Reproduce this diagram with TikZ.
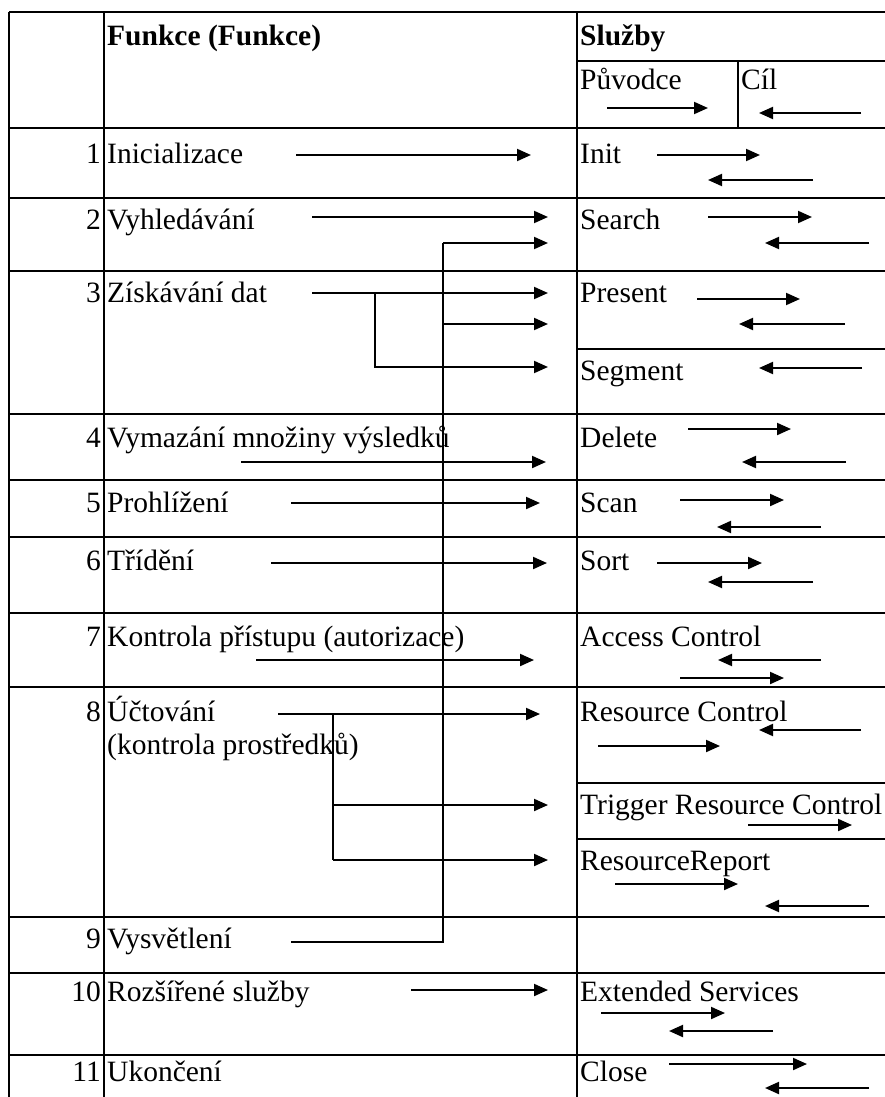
\documentclass[tikz,border=0pt]{standalone}
\usepackage{fontspec}
\setmainfont{Liberation Serif}
\usetikzlibrary{arrows.meta}

% one arrow with named ends: name, x of tail, x of tip, y
\newcommand\harrow[4]{%
  \coordinate (#1-s) at (#2,#4);
  \coordinate (#1-e) at (#3,#4);
  \draw[conn] (#1-s) -- (#1-e);}

\begin{document}
\begin{tikzpicture}[x=1pt,y=-1pt,
  grid/.style={line width=2.6pt},
  thin grid/.style={line width=1.8pt},
  conn/.style={line width=2pt,-{Triangle[length=14pt,width=12pt]}},
  wire/.style={line width=1.8pt},
  txt/.style={inner sep=0pt,anchor=base west,font=\fontsize{29.5}{33}\selectfont},
  num/.style={inner sep=0pt,anchor=base east,font=\fontsize{29.5}{33}\selectfont},
  head/.style={txt,font=\fontsize{29.5}{33}\selectfont\bfseries}]
\useasboundingbox (0,0) rectangle (885,1097);

% ---- table rules ----
\draw[grid] (9,12) -- (885,12);
\draw[grid] (9,12) -- (9,1097);
\draw[grid] (104,12) -- (104,1097);
\draw[grid] (577,12) -- (577,1097);
\draw[thin grid] (577,61) -- (885,61);
\draw[thin grid] (738,61) -- (738,128);
\foreach \y in {128,198,271,414,480,537,613,687,917,973,1055}
  \draw[grid] (9,\y) -- (885,\y);
\foreach \y in {349,783,839}
  \draw[grid] (577,\y) -- (885,\y);

% ---- header ----
\node[head] (hFun) at (107,46) {Funkce (Funkce)};
\node[head] (hSlu) at (580,46) {Služby};
\node[txt] (hPuv) at (580,90) {Původce};
\node[txt] (hCil) at (741,90) {Cíl};
\harrow{hp}{607}{708}{108}
\harrow{hc}{861}{759}{113}

% ---- function names ----
\node[num] (n1) at (101,164) {1};  \node[txt] (f1) at (107,164) {Inicializace};
\node[num] (n2) at (101,229) {2};  \node[txt] (f2) at (107,229) {Vyhledávání};
\node[num] (n3) at (101,302) {3};  \node[txt] (f3) at (107,302) {Získávání dat};
\node[num] (n4) at (101,447) {4};  \node[txt] (f4) at (107,447) {Vymazání množiny výsledků};
\node[num] (n5) at (101,512) {5};  \node[txt] (f5) at (107,512) {Prohlížení};
\node[num] (n6) at (101,570) {6};  \node[txt] (f6) at (107,570) {Třídění};
\node[num] (n7) at (101,646) {7};  \node[txt] (f7) at (107,646) {Kontrola přístupu (autorizace)};
\node[num] (n8) at (101,721) {8};  \node[txt] (f8) at (107,721) {Účtování};
\node[txt] (f8b) at (107,754) {(kontrola prostředků)};
\node[num] (n9) at (101,948) {9};  \node[txt] (f9) at (107,948) {Vysvětlení};
\node[num] (n10) at (101,1001) {10}; \node[txt] (f10) at (107,1001) {Rozšířené služby};
\node[num] (n11) at (101,1081) {11}; \node[txt] (f11) at (107,1081) {Ukončení};

% ---- service names ----
\node[txt] (s1) at (580,164) {Init};
\node[txt] (s2) at (580,229) {Search};
\node[txt] (s3) at (580,302) {Present};
\node[txt] (s3b) at (580,380) {Segment};
\node[txt] (s4) at (580,447) {Delete};
\node[txt] (s5) at (580,512) {Scan};
\node[txt] (s6) at (580,570) {Sort};
\node[txt] (s7) at (580,646) {Access Control};
\node[txt] (s8) at (580,721) {Resource Control};
\node[txt] (s8b) at (580,814) {Trigger Resource Control};
\node[txt] (s8c) at (580,870) {ResourceReport};
\node[txt] (s10) at (580,1001) {Extended Services};
\node[txt] (s11) at (580,1081) {Close};

% ---- function arrows ----
\harrow{a1}{296}{531}{155}
\harrow{a2}{312}{548}{217}
\harrow{a3}{312}{548}{293}
\harrow{a4}{241}{546}{462}
\harrow{a5}{291}{540}{503}
\harrow{a6}{271}{547}{563}
\harrow{a7}{256}{534}{660}
\harrow{a8}{278}{540}{714}
\harrow{a10}{411}{548}{990}

% branch of row 3 down to Segment
\coordinate (b3top) at (375,293);
\coordinate (b3end) at (548,367);
\draw[conn] (b3top) |- (b3end);

% branches of row 8 to Trigger Resource Control and ResourceReport
\coordinate (b8top) at (333,714);
\coordinate (b8mid) at (333,805);
\coordinate (b8bot) at (333,860);
\coordinate (b8e1) at (548,805);
\coordinate (b8e2) at (548,860);
\draw[wire] (b8top) -- (b8bot);
\draw[conn] (b8mid) -- (b8e1);
\draw[conn] (b8bot) -- (b8e2);

% Vysvětlení feeding Search and Present
\coordinate (v9s) at (291,942);
\coordinate (v9j) at (443,942);
\coordinate (vtop) at (443,243);
\coordinate (vmid) at (443,324);
\coordinate (ve1) at (548,243);
\coordinate (ve2) at (548,324);
\draw[wire] (v9s) -- (v9j) -- (vtop);
\draw[conn] (vtop) -- (ve1);
\draw[conn] (vmid) -- (ve2);

% ---- service arrows ----
\harrow{i1}{657}{760}{155}   \harrow{i2}{813}{708}{180}
\harrow{se1}{708}{812}{217}  \harrow{se2}{869}{765}{243}
\harrow{p1}{697}{800}{299}   \harrow{p2}{845}{739}{324}
\harrow{sg}{862}{759}{368}
\harrow{d1}{688}{791}{429}   \harrow{d2}{846}{742}{462}
\harrow{sc1}{680}{784}{500}  \harrow{sc2}{821}{717}{527}
\harrow{so1}{657}{762}{563}  \harrow{so2}{813}{708}{582}
\harrow{ac1}{821}{718}{660}  \harrow{ac2}{680}{784}{678}
\harrow{rc1}{861}{759}{730}  \harrow{rc2}{598}{720}{746}
\harrow{tr}{748}{852}{825}
\harrow{rr1}{615}{738}{884}  \harrow{rr2}{869}{765}{906}
\harrow{es1}{601}{725}{1013} \harrow{es2}{773}{669}{1031}
\harrow{cl1}{669}{807}{1064} \harrow{cl2}{869}{765}{1088}
\end{tikzpicture}
\end{document}
